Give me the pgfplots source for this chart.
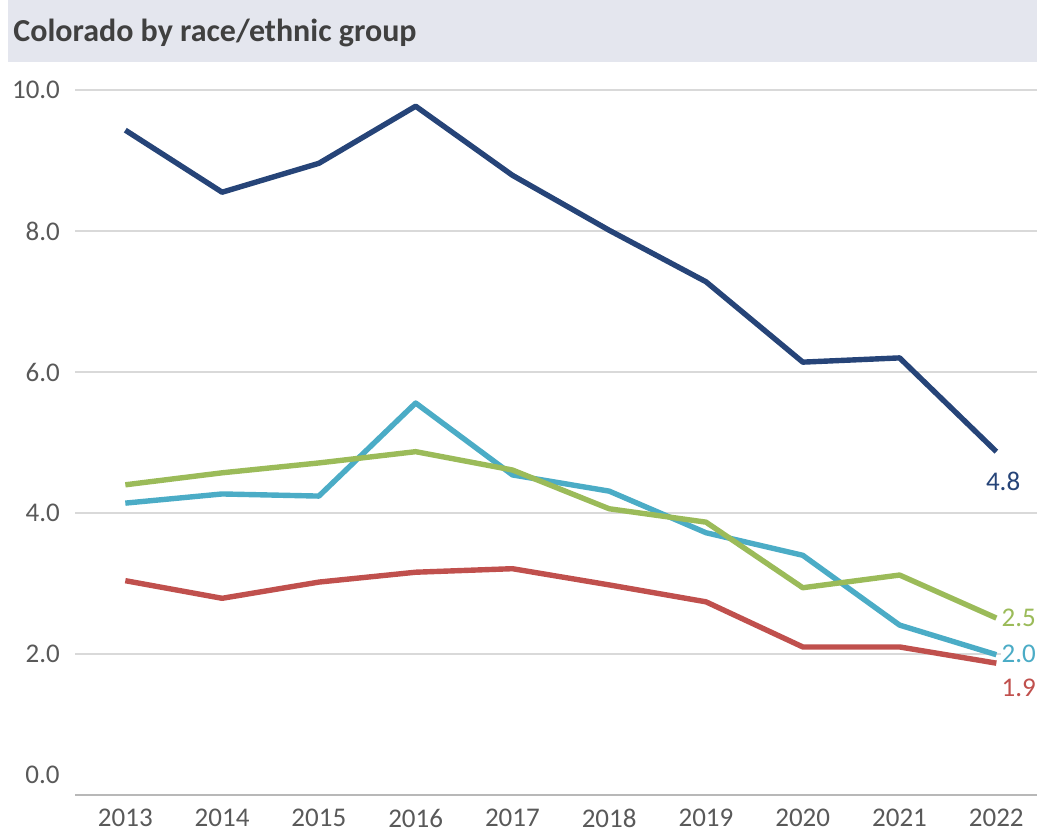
\documentclass[border=0pt]{standalone}
\usepackage{fontspec}
\setmainfont{Carlito}
\usepackage{pgfplots}
\pgfplotsset{compat=1.18}
\definecolor{cdblue}{HTML}{264478}
\definecolor{ccyan}{HTML}{4BACC6}
\definecolor{cgreen}{HTML}{9BBB59}
\definecolor{cred}{HTML}{C0504D}
\definecolor{ctitlebg}{HTML}{E4E6EE}
\definecolor{ctitle}{HTML}{404040}
\definecolor{ctick}{HTML}{595959}
\definecolor{cgrid}{HTML}{D9D9D9}
\begin{document}
\begin{tikzpicture}
\useasboundingbox (0,0) rectangle (518.5pt,417.5pt);
\fill[ctitlebg] (4pt,386.5pt) rectangle (518.5pt,417.5pt);
\node[anchor=base west, inner sep=0pt, text=ctitle, font=\fontsize{16}{18}\selectfont\bfseries] at (6.5pt,396.5pt) {Colorado by race/ethnic group};
\begin{axis}[
  at={(37.5pt,20pt)}, anchor=south west,
  scale only axis, width=481pt, height=352.5pt,
  xmin=2012.48, xmax=2022.42, ymin=0, ymax=10,
  xtick={2013,...,2022}, ytick={0,2,...,10},
  yticklabels={{},2.0,4.0,6.0,8.0,10.0},
  xticklabel style={/pgf/number format/1000 sep={}, yshift=-3.5pt},
  yticklabel style={xshift=-4pt},
  /pgf/number format/assume math mode=true,
  tick label style={font=\fontsize{13.5}{15}\selectfont, text=ctick},
  major tick length=0pt,
  axis line style={draw=none},
  ymajorgrids, grid style={cgrid, line width=0.6pt},
  xtick pos=bottom, ytick pos=left,
  clip=false,
  every axis plot/.append style={line width=2.7pt, line join=round},
]
\draw[color=black!28, line width=1pt] (axis cs:2012.48,0) -- (axis cs:2022.42,0);
\node[anchor=east, text=ctick, font=\fontsize{13.5}{15}\selectfont, inner sep=0pt] at ([xshift=-7.5pt,yshift=10pt]axis cs:2012.48,0) {0.0};
\addplot[color=cred, mark=none] coordinates {(2013,3.04) (2014,2.79) (2015,3.02) (2016,3.16) (2017,3.21) (2018,2.98) (2019,2.74) (2020,2.10) (2021,2.10) (2022,1.87)};
\addplot[color=ccyan, mark=none] coordinates {(2013,4.14) (2014,4.27) (2015,4.24) (2016,5.56) (2017,4.54) (2018,4.31) (2019,3.72) (2020,3.40) (2021,2.41) (2022,1.99)};
\addplot[color=cgreen, mark=none] coordinates {(2013,4.40) (2014,4.57) (2015,4.71) (2016,4.87) (2017,4.61) (2018,4.06) (2019,3.87) (2020,2.94) (2021,3.12) (2022,2.51)};
\addplot[color=cdblue, mark=none] coordinates {(2013,9.43) (2014,8.55) (2015,8.96) (2016,9.77) (2017,8.79) (2018,8.01) (2019,7.28) (2020,6.14) (2021,6.20) (2022,4.87)};
\node[anchor=center, text=cdblue, font=\fontsize{13.5}{15}\selectfont] at (axis cs:2022.07,4.45) {4.8};
\node[anchor=west, text=cgreen, font=\fontsize{13.5}{15}\selectfont, fill=white, inner sep=0.5pt] at (axis cs:2022.04,2.51) {2.5};
\node[anchor=west, text=ccyan, font=\fontsize{13.5}{15}\selectfont, fill=white, inner sep=0.5pt] at (axis cs:2022.04,2.0) {2.0};
\node[anchor=west, text=cred, font=\fontsize{13.5}{15}\selectfont, inner sep=0.5pt] at (axis cs:2022.04,1.52) {1.9};
\end{axis}
\end{tikzpicture}
\end{document}
